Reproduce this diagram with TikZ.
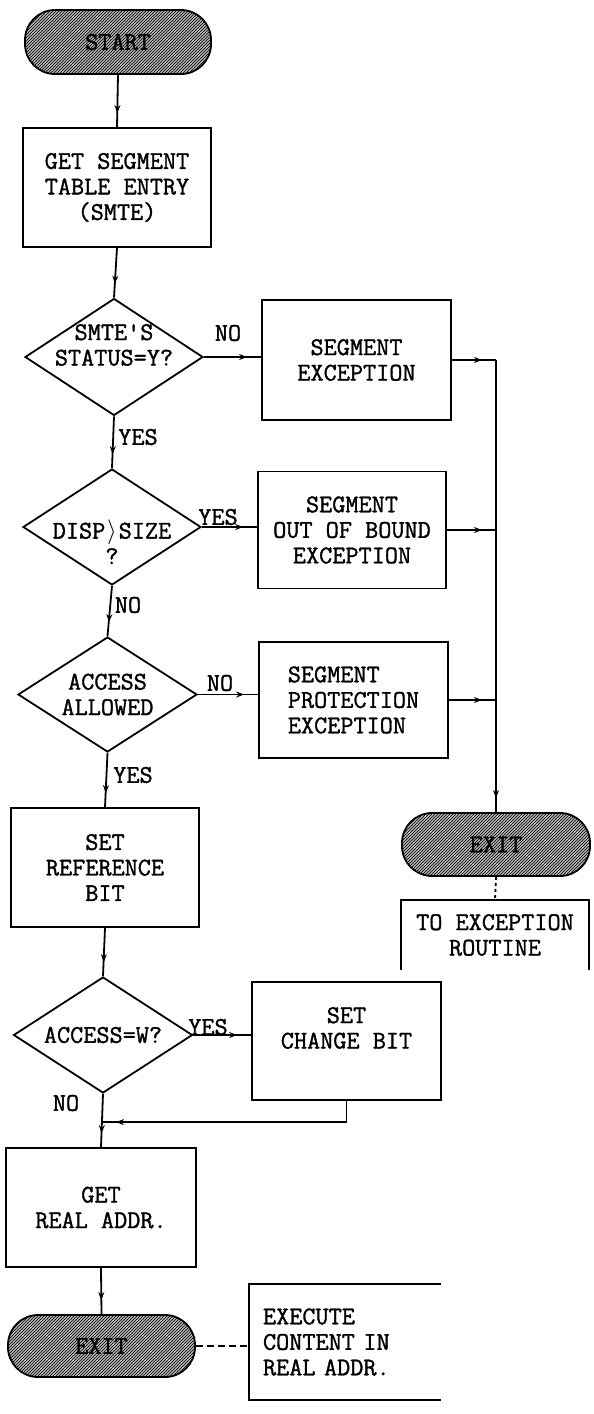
\documentclass[tikz,border=0pt]{standalone}
\usepackage{fontspec}
\newfontfamily\tw[FakeBold=1.3]{Latin Modern Mono}
\usetikzlibrary{shapes.geometric,arrows.meta,decorations.markings,patterns,calc}
\begin{document}
\begin{tikzpicture}[x=1pt,y=-1pt,
  every node/.style={font=\tw\fontsize{25.5}{25.5}\selectfont},
  ln/.style={line width=1.8pt},
  box/.style={draw, ln, rectangle, align=center, inner sep=0pt},
  dia/.style={draw, ln, diamond, inner sep=0pt},
  term/.style={draw, ln, rounded corners=30pt, inner sep=0pt, preaction={fill=gray!60}, pattern=north east lines, pattern color=black},
  arr/.style={ln, postaction={decorate}, decoration={markings, mark=at position -14pt with {\arrow{Stealth[length=8pt,width=6pt]}}}},
  lab/.style={inner sep=0pt, align=center},
]
\useasboundingbox (0,0) rectangle (594,1414);

\node[term, minimum width=186pt, minimum height=64pt] (start) at (118,42) {START};
\node[box, minimum width=188pt, minimum height=119pt] (b1) at (117,187.5) {GET SEGMENT\\TABLE ENTRY\\(SMTE)};
\node[dia, minimum width=178pt, minimum height=117pt, label={[lab,yshift=12pt]center:{SMTE'S\\STATUS=Y?}}] (d1) at (114,357) {};
\node[box, minimum width=189pt, minimum height=120pt] (e1) at (356.5,360) {SEGMENT\\EXCEPTION};
\node[dia, minimum width=178pt, minimum height=116pt, label={[lab,yshift=-15pt]center:{DISP\makebox[0.525em]{$\rangle$}SIZE\\?}}] (d2) at (112,527) {};
\node[box, minimum width=188pt, minimum height=117pt] (e2) at (352,530) {SEGMENT\\OUT OF BOUND\\EXCEPTION};
\node[dia, minimum width=179pt, minimum height=115pt, label={[lab]center:{ACCESS\\ALLOWED}}] (d3) at (107.5,694.5) {};
\node[box, align=left, minimum width=189pt, minimum height=116pt] (e3) at (353.5,700) {SEGMENT\\PROTECTION\\EXCEPTION};
\node[box, minimum width=188pt, minimum height=119pt] (b3) at (105,867.5) {SET\\REFERENCE\\BIT};
\node[term, minimum width=188pt, minimum height=63pt] (exR) at (496,844.5) {EXIT};
\node[lab, minimum width=188pt, minimum height=70pt] (t1) at (495,935) {TO EXCEPTION\\ROUTINE};
\draw[ln] (t1.south west) -- (t1.north west) -- (t1.north east) -- (t1.south east);
\node[dia, minimum width=179pt, minimum height=116pt, label={[lab]center:{ACCESS=W?}}] (d4) at (103,1035) {};
\node[box, minimum width=189pt, minimum height=118pt, label={[lab,yshift=13pt]center:{SET\\CHANGE BIT}}] (chg) at (346.5,1041) {};
\node[box, minimum width=190pt, minimum height=119pt] (b4) at (101,1207.5) {GET\\REAL ADDR.};
\node[term, minimum width=187pt, minimum height=62pt] (exB) at (101.5,1346) {EXIT};
\node[lab, align=left, text width=164pt, minimum width=192pt, minimum height=115pt, inner xsep=14pt] (t2) at (345,1342) {EXECUTE\\CONTENT IN\\REAL ADDR.};
\draw[ln] (t2.north east) -- (t2.north west) -- (t2.south west) -- (t2.south east);

\draw[arr] (start.south) -- (b1.north);
\draw[arr] (b1.south) -- (d1.north);
\draw[arr] (d1.east) -- (d1.east -| e1.west);
\draw[arr] (d1.south) -- (d2.north);
\draw[arr] (d2.east) -- (d2.east -| e2.west);
\draw[arr] (d2.south) -- (d3.north);
\draw[arr] (d3.east) -- (d3.east -| e3.west);
\draw[arr] (d3.south) -- (b3.north);
\draw[arr] (e1.east) -- (e1.east -| exR.north);
\draw[arr] (e2.east) -- (e2.east -| exR.north);
\draw[arr] (e3.east) -- (e3.east -| exR.north);
\draw[arr] (e1.east -| exR.north) -- (exR.north);
\draw[ln, dash pattern=on 3pt off 3pt] (exR.south) -- (t1.north);
\draw[arr] (b3.south) -- (d4.north);
\draw[arr] (d4.east) -- (d4.east -| chg.west);
\coordinate (m) at ($(d4.south)!0.53!(b4.north)$);
\draw[ln] (d4.south) -- (m);
\draw[arr] (m) -- (b4.north);
\draw[arr] (chg.south) |- (m);
\draw[arr] (b4.south) -- (exB.north);
\draw[ln, dash pattern=on 7pt off 4pt] (exB.east) -- (exB.east -| t2.west);

\node[lab] (n1) at (228,333) {NO};
\node[lab] (y1) at (138,437) {YES};
\node[lab] (y2) at (218,517) {YES};
\node[lab] (n2) at (128,605) {NO};
\node[lab] (n3) at (220,683) {NO};
\node[lab] (y3) at (133,775) {YES};
\node[lab] (y4) at (208,1027) {YES};
\node[lab] (n4) at (66,1103) {NO};
\end{tikzpicture}
\end{document}
